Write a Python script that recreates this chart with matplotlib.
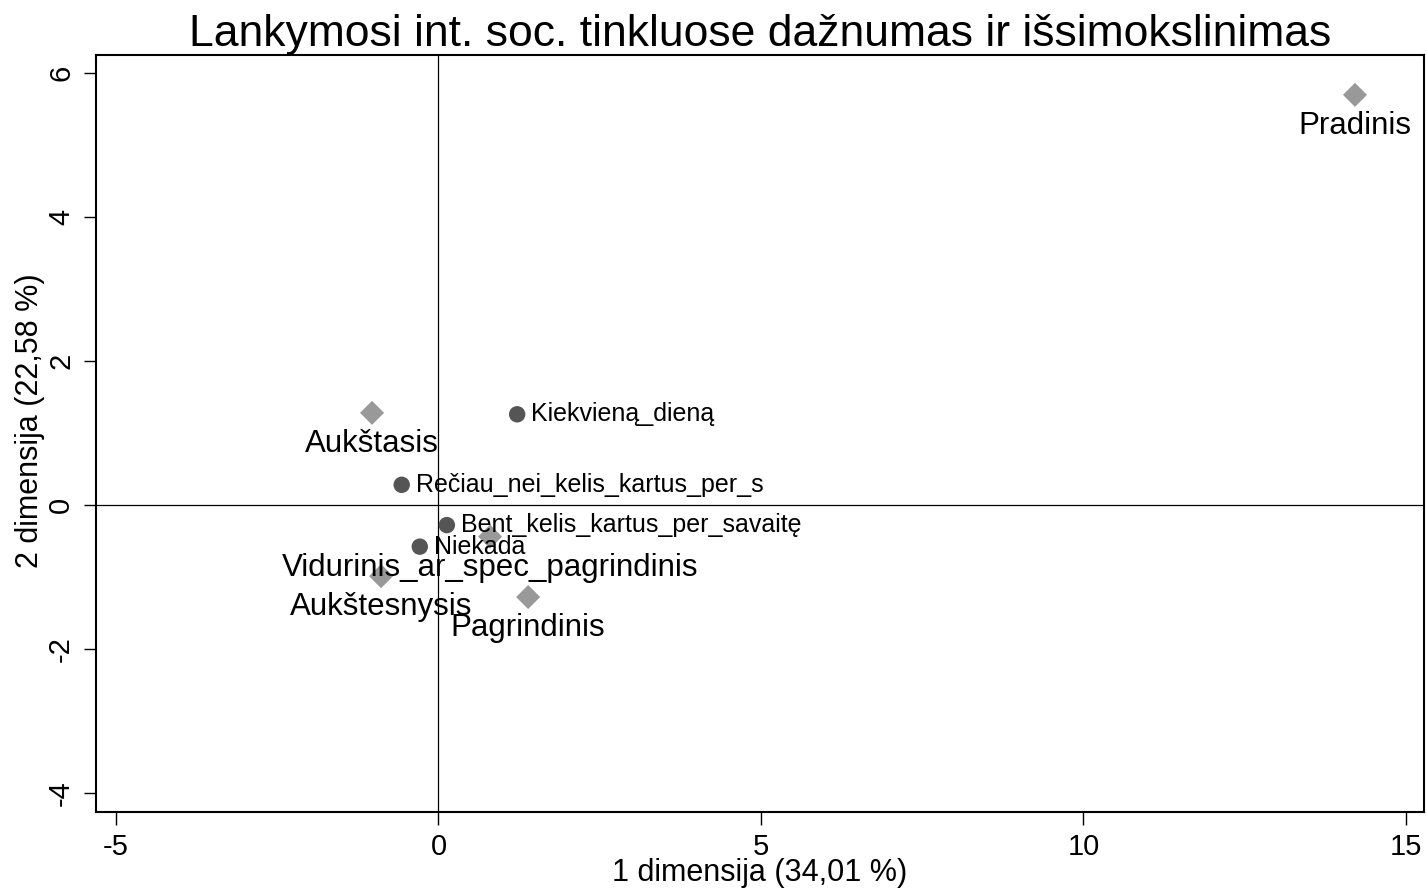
import matplotlib
matplotlib.use("Agg")
import matplotlib.pyplot as plt

plt.rcParams['font.family'] = ['Liberation Sans', 'DejaVu Sans']

# Row points (education) - diamonds
row_labels = ["Pradinis", "Aukštasis", "Vidurinis_ar_spec_pagrindinis", "Aukštesnysis", "Pagrindinis"]
row_x = [14.21, -1.03, 0.80, -0.89, 1.39]
row_y = [5.70, 1.28, -0.44, -0.99, -1.28]

# Column points (frequency) - circles
col_labels = ["Kiekvieną_dieną", "Rečiau_nei_kelis_kartus_per_s", "Bent_kelis_kartus_per_savaitę", "Niekada"]
col_x = [1.22, -0.57, 0.13, -0.29]
col_y = [1.26, 0.28, -0.28, -0.58]

xticks = [-5, 0, 5, 10, 15]
yticks = [-4, -2, 0, 2, 4, 6]

fig = plt.figure(figsize=(14.26, 8.88), dpi=100)
ax = fig.add_axes([96/1426, 76/888, 1328/1426, 757/888])

ax.axhline(0, color='black', lw=0.9, zorder=1)
ax.axvline(0, color='black', lw=0.9, zorder=1)

ax.scatter(col_x, col_y, marker='o', s=140, color='#555555', edgecolors='none', zorder=3)
ax.scatter(row_x, row_y, marker='D', s=150, color='#999999', edgecolors='none', zorder=3)

for lab, x, y in zip(col_labels, col_x, col_y):
    ax.annotate(lab, (x, y), xytext=(10, 0), textcoords='offset points',
                ha='left', va='center', fontsize=18, zorder=4)
for lab, x, y in zip(row_labels, row_x, row_y):
    ax.annotate(lab, (x, y), xytext=(0, -11.5), textcoords='offset points',
                ha='center', va='top', fontsize=22.5, zorder=4)

ax.set_xlim(-5.31, 15.28)
ax.set_ylim(-4.268, 6.254)
ax.set_xticks(xticks)
ax.set_yticks(yticks)
ax.set_xticklabels([str(t) for t in xticks], fontsize=21)
ax.set_yticklabels([str(t) for t in yticks], fontsize=21, rotation=90, va='center')
ax.tick_params(direction='out', length=9, width=1, pad=6)
for sp in ax.spines.values():
    sp.set_linewidth(1.5)

ax.set_xlabel("1 dimensija (34,01 %)", fontsize=22, labelpad=-2)
ax.set_ylabel("2 dimensija (22,58 %)", fontsize=22)
ax.yaxis.set_label_coords(-0.0384, 0.5165)
ax.set_title("Lankymosi int. soc. tinkluose dažnumas ir išsimokslinimas", fontsize=32, pad=3)

fig.savefig("out.png", dpi=100)
